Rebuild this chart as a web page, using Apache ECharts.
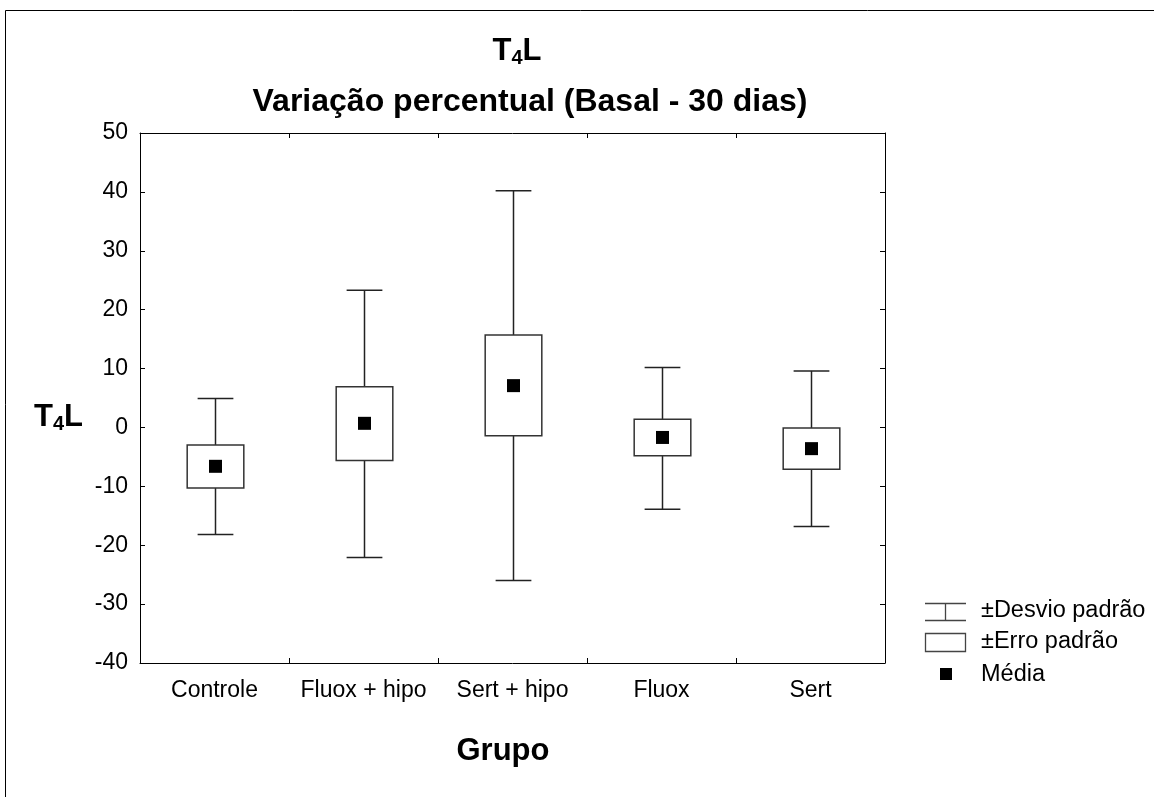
<!DOCTYPE html>
<html><head><meta charset="utf-8">
<script src="https://cdn.jsdelivr.net/npm/echarts@6/dist/echarts.min.js"></script>
<style>html,body{margin:0;padding:0;background:#fff}#c{width:1154px;height:797px}</style>
</head><body><div id="c"></div>
<script>
var categories = ['Controle', 'Fluox + hipo', 'Sert + hipo', 'Fluox', 'Sert'];
var sdHigh = [4.9, 23.3, 40.2, 10.2, 9.6];
var seHigh = [-3.0, 6.9, 15.7, 1.4, -0.1];
var means  = [-6.6, 0.7, 7.1, -1.7, -3.6];
var seLow  = [-10.3, -5.6, -1.4, -4.8, -7.1];
var sdLow  = [-18.2, -22.1, -26.0, -13.9, -16.8];
var yTicks = { min: -40, max: 50, interval: 10 };

var data = categories.map(function (c, i) {
  return [i, sdLow[i], seLow[i], means[i], seHigh[i], sdHigh[i]];
});

var font = 'Liberation Sans, Arial, sans-serif';
var chart = echarts.init(document.getElementById('c'), null, { renderer: 'canvas' });

function renderItem(params, api) {
  var i = api.value(0);
  var pLo = api.coord([i, api.value(1)]);
  var pSeLo = api.coord([i, api.value(2)]);
  var pM = api.coord([i, api.value(3)]);
  var pSeHi = api.coord([i, api.value(4)]);
  var pHi = api.coord([i, api.value(5)]);
  var bw = api.size([1, 0])[0];
  var boxW = bw * 0.38, capW = bw * 0.24, ms = 13;
  var x = Math.round(pM[0]) + 0.5;
  var ls = { stroke: '#222', lineWidth: 1.5 };
  return {
    type: 'group',
    children: [
      { type: 'line', shape: { x1: x, y1: pHi[1], x2: x, y2: pLo[1] }, style: ls },
      { type: 'line', shape: { x1: x - capW / 2, y1: pHi[1], x2: x + capW / 2, y2: pHi[1] }, style: ls },
      { type: 'line', shape: { x1: x - capW / 2, y1: pLo[1], x2: x + capW / 2, y2: pLo[1] }, style: ls },
      { type: 'rect', shape: { x: x - boxW / 2, y: pSeHi[1], width: boxW, height: pSeLo[1] - pSeHi[1] },
        style: { fill: '#fff', stroke: '#333', lineWidth: 1.5 } },
      { type: 'rect', shape: { x: x - ms / 2, y: pM[1] - ms / 2, width: ms, height: ms },
        style: { fill: '#000' } }
    ]
  };
}

var axisLine = { show: true, onZero: false, lineStyle: { color: '#000', width: 1 } };
var tickIn = { show: true, inside: true, length: 5, lineStyle: { color: '#000' } };

chart.setOption({
  animation: false,
  backgroundColor: '#fff',
  textStyle: { fontFamily: font },
  grid: { left: 140, right: 269, top: 133, bottom: 134, containLabel: false },
  xAxis: [
    {
      type: 'category', data: categories, position: 'bottom',
      axisLine: axisLine, axisTick: tickIn,
      axisLabel: { fontSize: 23, color: '#000', fontFamily: font, margin: 16, interval: 0 },
      splitLine: { show: false }
    },
    {
      type: 'category', data: categories, position: 'top',
      axisLine: axisLine, axisTick: tickIn, axisLabel: { show: false }, splitLine: { show: false }
    }
  ],
  yAxis: [
    {
      type: 'value', min: yTicks.min, max: yTicks.max, interval: yTicks.interval, position: 'left',
      axisLine: axisLine, axisTick: tickIn,
      axisLabel: { fontSize: 23, color: '#000', fontFamily: font, margin: 12 },
      splitLine: { show: false }
    },
    {
      type: 'value', min: yTicks.min, max: yTicks.max, interval: yTicks.interval, position: 'right',
      axisLine: axisLine, axisTick: tickIn, axisLabel: { show: false }, splitLine: { show: false }
    }
  ],
  series: [{
    type: 'custom',
    renderItem: renderItem,
    encode: { x: 0, y: [1, 2, 3, 4, 5] },
    data: data,
    xAxisIndex: 0, yAxisIndex: 0,
    clip: false
  }],
  graphic: [
    { type: 'rect', shape: { x: 5.5, y: 10.5, width: 1160, height: 800 },
      style: { fill: 'none', stroke: '#000', lineWidth: 1 }, silent: true, z: -10 },
    {
      type: 'text', x: 517, y: 51,
      style: {
        text: '{b|T}{s|4}{b|L}', align: 'center', verticalAlign: 'middle',
        rich: {
          b: { fontSize: 31, fontWeight: 'bold', fontFamily: font, fill: '#000', lineHeight: 36 },
          s: { fontSize: 20, fontWeight: 'bold', fontFamily: font, fill: '#000', padding: [14, 0, 0, 0], lineHeight: 36 }
        }
      }
    },
    {
      type: 'text', x: 530, y: 102,
      style: { text: 'Variação percentual (Basal - 30 dias)', align: 'center', verticalAlign: 'middle',
        fontSize: 32, fontWeight: 'bold', fontFamily: font, fill: '#000' }
    },
    {
      type: 'text', x: 503, y: 751,
      style: { text: 'Grupo', align: 'center', verticalAlign: 'middle',
        fontSize: 31, fontWeight: 'bold', fontFamily: font, fill: '#000' }
    },
    {
      type: 'text', x: 34, y: 417,
      style: {
        text: '{b|T}{s|4}{b|L}', align: 'left', verticalAlign: 'middle',
        rich: {
          b: { fontSize: 31, fontWeight: 'bold', fontFamily: font, fill: '#000', lineHeight: 36 },
          s: { fontSize: 20, fontWeight: 'bold', fontFamily: font, fill: '#000', padding: [14, 0, 0, 0], lineHeight: 36 }
        }
      }
    },
    // legend: whisker icon
    { type: 'line', shape: { x1: 925, y1: 603.5, x2: 966, y2: 603.5 }, style: { stroke: '#444', lineWidth: 1.3 } },
    { type: 'line', shape: { x1: 925, y1: 620.5, x2: 966, y2: 620.5 }, style: { stroke: '#444', lineWidth: 1.3 } },
    { type: 'line', shape: { x1: 945.5, y1: 603.5, x2: 945.5, y2: 620.5 }, style: { stroke: '#444', lineWidth: 1.3 } },
    { type: 'text', x: 981, y: 611, style: { text: '±Desvio padrão', verticalAlign: 'middle', fontSize: 23.5, fontFamily: font, fill: '#000' } },
    // legend: box icon
    { type: 'rect', shape: { x: 925.5, y: 633.5, width: 40, height: 18 }, style: { fill: '#fff', stroke: '#444', lineWidth: 1.3 } },
    { type: 'text', x: 981, y: 642, style: { text: '±Erro padrão', verticalAlign: 'middle', fontSize: 23.5, fontFamily: font, fill: '#000' } },
    // legend: mean icon
    { type: 'rect', shape: { x: 940, y: 668, width: 12, height: 12 }, style: { fill: '#000' } },
    { type: 'text', x: 981, y: 675, style: { text: 'Média', verticalAlign: 'middle', fontSize: 23.5, fontFamily: font, fill: '#000' } }
  ]
});
</script>
</body></html>
